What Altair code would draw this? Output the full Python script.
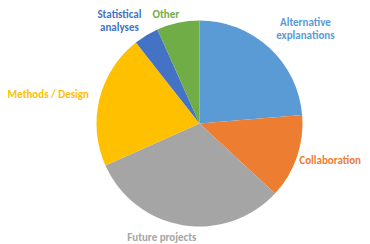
import altair as alt
import pandas as pd

categories = ["Alternative explanations", "Collaboration", "Future projects",
              "Methods / Design", "Statistical analyses", "Other"]
shares = [23.7, 13.2, 31.4, 21.1, 3.9, 6.7]
label_lines = ["Alternative\nexplanations", "Collaboration", "Future projects",
               "Methods / Design", "Statistical\nanalyses", "Other"]
colors = ["#5B9BD5", "#ED7D31", "#A5A5A5", "#FFC000", "#4472C4", "#70AD47"]

df = pd.DataFrame({"category": categories, "share": shares,
                   "label": label_lines, "rank": list(range(len(categories)))})

CX, CY = 191.5, 115.5
FONT = "Carlito, Lato, sans-serif"

base = alt.Chart(df)

pie = base.mark_arc(outerRadius=103).encode(
    theta=alt.Theta("share:Q", stack=True),
    color=alt.Color("category:N", scale=alt.Scale(domain=categories, range=colors), legend=None),
    order=alt.Order("rank:Q"),
    x=alt.value(CX), y=alt.value(CY),
)

labelled = base.transform_window(
    cum="sum(share)", sort=[alt.SortField("rank")], frame=[None, 0]
).transform_joinaggregate(total="sum(share)").transform_calculate(
    mid="2*PI*(datum.cum - datum.share/2)/datum.total"
)

# label offsets (dx, dy) relative to a point on the slice's mid-angle at radius 115
offsets = {
    "Alternative explanations": (28, -15.7),
    "Collaboration": (22, -0.3),
    "Future projects": (-19, 1.0),
    "Methods / Design": (-39.6, -0.6),
    "Statistical analyses": (-20.6, -10.3),
    "Other": (-9.6, 3.7),
}

layers = [pie]
for cat, col in zip(categories, colors):
    dx, dy = offsets[cat]
    layers.append(
        labelled.transform_filter(alt.datum.category == cat).mark_text(
            dx=dx, dy=dy, font=FONT, fontSize=11, fontWeight="bold", color=col,
            lineBreak="\n", lineHeight=13, align="center", baseline="middle",
        ).encode(
            theta=alt.Theta("mid:Q", scale=None, stack=None),
            radius=alt.value(115),
            text="label:N",
            x=alt.value(CX), y=alt.value(CY),
        )
    )

chart = alt.layer(*layers).properties(
    width=354, height=236, padding=0,
    autosize=alt.AutoSizeParams(type="none"),
).configure_view(stroke=None)

chart.save("out.html", embed_options={"renderer": "svg", "actions": False})
